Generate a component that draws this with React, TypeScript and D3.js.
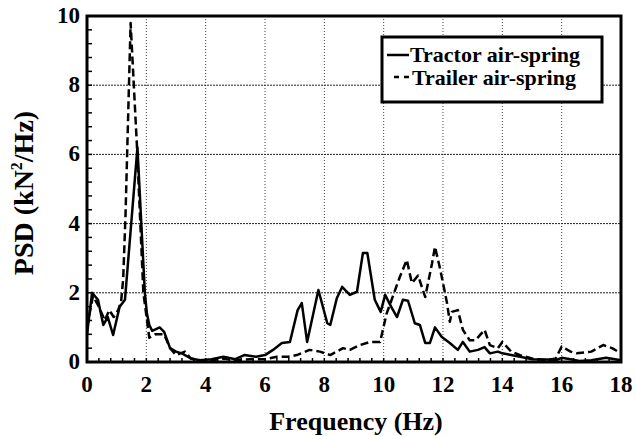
import * as d3 from "d3";

// Tractor air-spring (solid)
const tractorFreq = [0, 0.17, 0.37, 0.55, 0.7, 0.88, 1.1, 1.28, 1.7, 1.95, 2.02, 2.1, 2.2, 2.45, 2.6, 2.8, 3.0, 3.2, 3.5, 3.8, 4.2, 4.6, 5.0, 5.3, 5.7, 6.0, 6.27, 6.57, 6.84, 7.1, 7.24, 7.42, 7.8, 8.1, 8.2, 8.42, 8.6, 8.86, 9.1, 9.3, 9.45, 9.7, 9.9, 10.05, 10.25, 10.45, 10.65, 10.82, 11.05, 11.22, 11.4, 11.56, 11.73, 11.96, 12.23, 12.5, 12.67, 12.9, 13.18, 13.4, 13.58, 13.85, 14.0, 14.3, 14.6, 15.0, 15.5, 15.8, 16.0, 16.3, 16.6, 17.0, 17.5, 17.8, 18.0];
const tractorPsd = [0.8, 2.0, 1.8, 1.07, 1.3, 0.78, 1.6, 1.8, 6.2, 2.0, 1.4, 1.07, 0.9, 1.0, 0.87, 0.4, 0.3, 0.25, 0.1, 0.05, 0.08, 0.15, 0.08, 0.2, 0.15, 0.2, 0.35, 0.55, 0.58, 1.5, 1.7, 0.58, 2.08, 1.12, 1.07, 1.84, 2.17, 1.94, 2.03, 3.15, 3.15, 1.8, 1.45, 1.94, 1.6, 1.3, 1.8, 1.77, 1.12, 1.07, 0.55, 0.55, 1.0, 0.72, 0.55, 0.35, 0.58, 0.3, 0.35, 0.43, 0.25, 0.3, 0.25, 0.2, 0.15, 0.08, 0.07, 0.05, 0.12, 0.08, 0.03, 0.05, 0.12, 0.08, 0.05];

// Trailer air-spring (dashed)
const trailerFreq = [0, 0.2, 0.4, 0.6, 0.75, 0.9, 1.05, 1.15, 1.22, 1.3, 1.47, 1.68, 1.9, 2.1, 2.3, 2.6, 2.8, 3.0, 3.3, 3.5, 3.8, 4.2, 4.6, 5.0, 5.5, 6.0, 6.4, 6.78, 7.07, 7.5, 7.85, 8.2, 8.63, 8.86, 9.2, 9.54, 9.88, 10.1, 10.55, 10.78, 10.95, 11.16, 11.4, 11.63, 11.73, 11.9, 12.13, 12.23, 12.3, 12.5, 12.67, 12.9, 13.1, 13.4, 13.58, 13.85, 14.0, 14.3, 14.6, 15.0, 15.5, 15.8, 16.0, 16.3, 16.5, 17.0, 17.4, 17.7, 18.0];
const trailerPsd = [1.0, 1.9, 1.6, 1.2, 1.5, 1.3, 1.5, 1.75, 2.4, 4.3, 9.8, 6.3, 2.0, 0.7, 0.8, 0.8, 0.4, 0.2, 0.3, 0.1, 0.05, 0.05, 0.1, 0.05, 0.08, 0.08, 0.15, 0.15, 0.2, 0.35, 0.3, 0.2, 0.4, 0.35, 0.49, 0.58, 0.58, 1.4, 2.47, 2.95, 2.28, 2.5, 1.88, 2.85, 3.33, 2.7, 1.73, 1.16, 1.45, 1.5, 0.93, 0.63, 0.63, 0.93, 0.49, 0.4, 0.58, 0.3, 0.2, 0.1, 0.05, 0.1, 0.45, 0.3, 0.25, 0.3, 0.49, 0.4, 0.25];

const xTicks = [0, 2, 4, 6, 8, 10, 12, 14, 16, 18];
const yTicks = [0, 2, 4, 6, 8, 10];
const legendLabels = ["Tractor air-spring", "Trailer air-spring"];

const W = 636;
const H = 436;
const left = 87, right = 621, top = 16, bottom = 362;
const font = "Liberation Serif";

export default function App() {
  const x = d3.scaleLinear().domain([0, 18]).range([left, right]);
  const y = d3.scaleLinear().domain([0, 10]).range([bottom, top]);

  const line = d3
    .line<[number, number]>()
    .x((d) => x(d[0]))
    .y((d) => y(d[1]));

  const tractor = tractorFreq.map((f, i) => [f, tractorPsd[i]] as [number, number]);
  const trailer = trailerFreq.map((f, i) => [f, trailerPsd[i]] as [number, number]);

  const minorX = d3.range(0, 18.01, 0.4);
  const minorY = d3.range(0, 10.01, 0.4);

  return (
    <svg width={W} height={H} style={{ display: "block", position: "absolute", left: 0, top: 0, background: "#fff", fontFamily: font, fontWeight: "bold" }}>
      {/* grid */}
      {xTicks.slice(1, -1).map((t) => (
        <line key={"gx" + t} x1={x(t)} x2={x(t)} y1={top} y2={bottom} stroke="#444" strokeWidth={1} strokeDasharray="1,2" />
      ))}
      {yTicks.slice(1, -1).map((t) => (
        <line key={"gy" + t} x1={left} x2={right} y1={y(t)} y2={y(t)} stroke="#222" strokeWidth={1} strokeDasharray="2,1" />
      ))}

      {/* minor ticks */}
      {minorX.map((t, i) => (
        <line key={"mx" + i} x1={x(t)} x2={x(t)} y1={bottom} y2={bottom - 4} stroke="#000" strokeWidth={1.5} />
      ))}
      {minorY.map((t, i) => (
        <line key={"my" + i} x1={left} x2={left + 5} y1={y(t)} y2={y(t)} stroke="#000" strokeWidth={1.5} />
      ))}

      {/* curves */}
      <path d={line(trailer) ?? ""} fill="none" stroke="#000" strokeWidth={2.5} strokeDasharray="8,4" strokeLinejoin="round" />
      <path d={line(tractor) ?? ""} fill="none" stroke="#000" strokeWidth={2.5} strokeLinejoin="round" />

      {/* frame */}
      <rect x={left} y={top} width={right - left} height={bottom - top} fill="none" stroke="#000" strokeWidth={3} />

      {/* tick labels */}
      {xTicks.map((t) => (
        <text key={"xl" + t} x={x(t)} y={392} textAnchor="middle" fontSize={23}>
          {t}
        </text>
      ))}
      {yTicks.map((t) => (
        <text key={"yl" + t} x={80} y={y(t) + 7} textAnchor="end" fontSize={23}>
          {t}
        </text>
      ))}

      {/* axis titles */}
      <text x={(left + right) / 2 + 2} y={430} textAnchor="middle" fontSize={26}>
        Frequency (Hz)
      </text>
      <text transform={`translate(33, ${(top + bottom) / 2 + 4}) rotate(-90)`} textAnchor="middle" fontSize={28}>
        PSD (kN<tspan fontSize={16} dy={-11}>2</tspan>
        <tspan dy={11}>/Hz)</tspan>
      </text>

      {/* legend */}
      <rect x={382} y={37} width={220} height={65} fill="#fff" stroke="#000" strokeWidth={3} />
      <line x1={387} x2={409} y1={55} y2={55} stroke="#000" strokeWidth={2.5} />
      <line x1={394} x2={409} y1={77} y2={77} stroke="#000" strokeWidth={2.5} strokeDasharray="5,5" />
      <text x={410} y={62} fontSize={22}>
        {legendLabels[0]}
      </text>
      <text x={412} y={85} fontSize={22}>
        {legendLabels[1]}
      </text>
    </svg>
  );
}
